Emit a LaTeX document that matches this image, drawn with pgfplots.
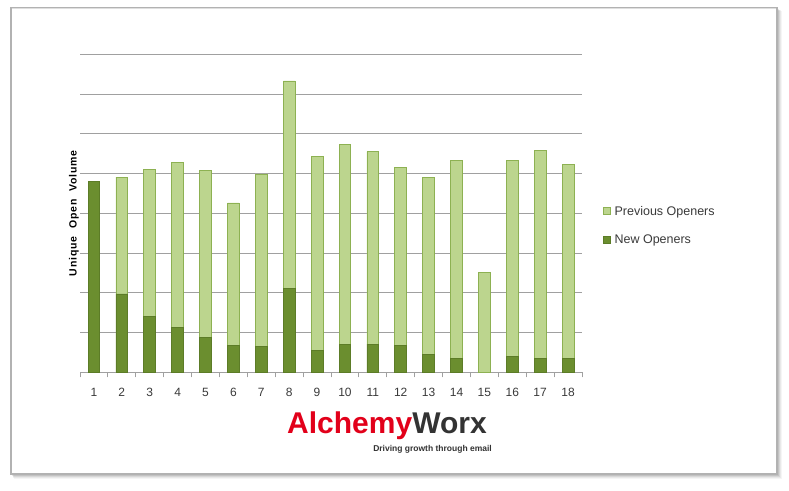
\documentclass[border=0pt]{standalone}
\usepackage{fontspec}
\setmainfont{Liberation Sans}
\newfontfamily\ylfont[LetterSpace=8]{Liberation Sans}
\usepackage{xcolor}
\usepackage{pgfplots}
\pgfplotsset{compat=1.18}

\definecolor{newc}{HTML}{6B8E2F}
\definecolor{newe}{HTML}{5C7C27}
\definecolor{prevc}{HTML}{BCD58E}
\definecolor{preve}{HTML}{8DB152}
\definecolor{gridc}{HTML}{A0A0A0}
\definecolor{txt}{HTML}{3A3A3A}
\definecolor{logored}{HTML}{E2001A}
\definecolor{logogray}{HTML}{333333}

\begin{document}
\begin{tikzpicture}[x=1pt,y=1pt]
\useasboundingbox (0,0) rectangle (789,490);
\fill[white] (0,0) rectangle (789,490);
% frame with soft shadow
\foreach \o/\a in {5/0.04,4/0.05,3/0.07,2/0.09}{
  \fill[black,opacity=\a] (11+\o*0.6,16-\o) rectangle (777+\o,482-\o*0.6);
}
\fill[white,draw=gray!60,line width=1.2pt] (11,16) rectangle (777,482);
\draw[gray!25,line width=0.8pt] (11.6,481.4) -- (776.4,481.4);

\begin{axis}[
    at={(80pt,117.7pt)}, anchor=south west,
    scale only axis,
    width=502pt, height=318pt,
    ybar stacked, bar width=11.7pt,
    xmin=0.5, xmax=18.5, ymin=0, ymax=8,
    axis x line*=bottom, axis y line*=left,
    x axis line style={gridc,line width=1pt},
    y axis line style={draw=none},
    xtick={1,...,18},
    minor xtick={0.5,1.5,...,18.5},
    tick align=outside,
    major tick length=0pt, minor tick length=5pt,
    minor x tick style={gridc,line width=0.9pt},
    /pgf/number format/assume math mode=true,
    xticklabel style={font=\fontsize{12}{12}\selectfont, text=txt, yshift=-12pt},
    ytick={1,...,8}, yticklabels={},
    ymajorgrids, grid style={gridc,line width=1.1pt},
    ylabel={\ylfont\bfseries\fontsize{10.5}{10.5}\selectfont Unique\ \ Open\ \ Volume},
    ylabel style={at={(axis description cs:-0.002,0.5)}, anchor=south, text=black, inner sep=0pt},
    reverse legend,
    legend style={at={(axis description cs:1.042,0.462)}, anchor=west, draw=none, fill=none,
        font=\fontsize{12.5}{12.5}\selectfont, text=txt, row sep=11pt, inner sep=0pt,
        nodes={inner sep=3.5pt}},
    legend cell align=left,
    area legend,
    legend image code/.code={\draw[#1,line width=0.8pt] (0pt,-3.5pt) rectangle (7pt,3.5pt);},
]
\addplot[fill=newc, draw=newe, line width=0.8pt] coordinates {
 (1,4.79) (2,1.97) (3,1.41) (4,1.12) (5,0.87) (6,0.68) (7,0.65) (8,2.11) (9,0.54)
 (10,0.71) (11,0.71) (12,0.68) (13,0.46) (14,0.34) (15,0) (16,0.40) (17,0.34) (18,0.34)
};
\addplot[fill=prevc, draw=preve, line width=0.8pt] coordinates {
 (1,0) (2,2.94) (3,3.70) (4,4.15) (5,4.21) (6,3.58) (7,4.34) (8,5.22) (9,4.90)
 (10,5.02) (11,4.84) (12,4.48) (13,4.45) (14,4.99) (15,2.52) (16,4.93) (17,5.24) (18,4.89)
};
\legend{New Openers, Previous Openers}
\end{axis}

% logo
\node[anchor=base west, inner sep=0pt] at (287,56.7)
  {\bfseries\fontsize{30}{30}\selectfont\textcolor{logored}{Alchemy}\textcolor{logogray}{Worx}};
\node[anchor=base east, inner sep=0pt, text=logogray] at (492,39)
  {\bfseries\fontsize{8.5}{9}\selectfont Driving growth through email};
\end{tikzpicture}
\end{document}
